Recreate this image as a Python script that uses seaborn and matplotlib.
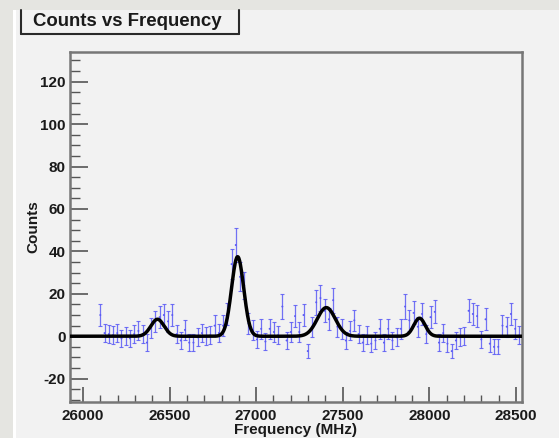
import numpy as np
import pandas as pd
import matplotlib
matplotlib.use("Agg")
import matplotlib.pyplot as plt
from matplotlib.patches import Rectangle
from matplotlib.lines import Line2D
from matplotlib.ticker import MultipleLocator
import seaborn as sns

sns.set_style("white")
plt.rcParams['font.family'] = ['Liberation Sans', 'DejaVu Sans']
plt.rcParams['axes.unicode_minus'] = False

# ---- data ----
freq_first = 26100
freq_last = 28520
counts = [10, 1.5, 1, 0.5, 1.5, -1, 0, -1, 1, 2.5,
          1, -3, 4, 7, 9, 10, 7, 10, 1, -2,
          3, -3, -3, -0.5, 1.5, 0, 0.5, 5, 1.5, 5,
          10.5, 34, 43, 28, 24, 6, 3, -1.5, 3.5, -2.5,
          3.5, 2, 0.5, 14, -2, 2, 9.5, 2, 10, -7,
          4.5, 16, 18, 12, 8, 17, 4.5, 3.5, -2, 2.5,
          7.5, 1, -3, 0.5, -3.5, -2, 3.5, -3, 3.5, -2,
          -0.5, 3.5, 14, 7.5, 11, 4.5, 10.5, 1, 9, 11.5,
          -3, 1.5, -3.5, -7, -2, -0.5, 0, 12, 10.5, 9.5,
          -1.5, 8, -3.5, -5, -5, 5, 4.5, 10.5, 3.5, 0.5]
errors = [5.3, 4.4, 4.4, 4.3, 4.4, 4.1, 4.2, 4.1, 4.4, 4.5,
          4.4, 3.9, 4.7, 5.0, 5.2, 5.3, 5.0, 5.3, 4.4, 4.0,
          4.6, 3.9, 3.9, 4.3, 4.4, 4.2, 4.3, 4.8, 4.4, 4.8,
          5.3, 7.2, 7.8, 6.8, 6.5, 4.9, 4.6, 4.1, 4.6, 3.9,
          4.6, 4.5, 4.3, 5.7, 4.0, 4.5, 5.2, 4.5, 5.3, 3.3,
          4.7, 5.8, 6.0, 5.5, 5.1, 5.9, 4.7, 4.6, 4.0, 4.5,
          5.0, 4.4, 3.9, 4.3, 3.8, 4.0, 4.6, 3.9, 4.6, 4.0,
          4.2, 4.6, 5.7, 5.0, 5.4, 4.7, 5.3, 4.4, 5.2, 5.4,
          3.9, 4.4, 3.8, 3.3, 4.0, 4.2, 4.2, 5.5, 5.3, 5.2,
          4.1, 5.1, 3.8, 3.6, 3.6, 4.8, 4.7, 5.3, 4.6, 4.3]
# Gaussian fit parameters (four peaks)
peak_centers = [26430, 26893, 27405, 27943]
peak_amps = [8, 37.5, 13.5, 8.5]
peak_sigmas = [38, 35, 52, 33]

x_ticks = [26000, 26500, 27000, 27500, 28000, 28500]
y_ticks = [-20, 0, 20, 40, 60, 80, 100, 120]
title = "Counts vs Frequency"
x_label = "Frequency (MHz)"
y_label = "Counts"

freqs = np.linspace(freq_first, freq_last, len(counts))
df = pd.DataFrame({"freq": freqs, "counts": counts, "err": errors})

xlim = (25925, 28535)
ylim = (-31, 134)
grid = np.linspace(xlim[0], xlim[1], 1200)
fit = np.zeros_like(grid)
for c, a, s in zip(peak_centers, peak_amps, peak_sigmas):
    fit += a * np.exp(-0.5 * ((grid - c) / s) ** 2)
fit_df = pd.DataFrame({"freq": grid, "fit": fit})

# ---- figure ----
W, H = 559, 438
fig = plt.figure(figsize=(W / 100, H / 100), dpi=100, facecolor='#e5e5e1')
# canvas
fig.patches.append(Rectangle((16 / W, 0), 1 - 16 / W, 1 - 10 / H,
                             transform=fig.transFigure, facecolor='#f2f2f2',
                             edgecolor='none', zorder=-10))
fig.patches.append(Rectangle((13 / W, 0), 3 / W, 1 - 10 / H,
                             transform=fig.transFigure, facecolor='white',
                             edgecolor='none', zorder=-10))

ax = fig.add_axes([70 / W, 1 - 402 / H, 452 / W, 350 / H])
ax.set_zorder(1)
ax.set_facecolor('#f2f2f2')

blue = '#5a5af5'
ax.errorbar(df["freq"], df["counts"], yerr=df["err"], fmt='none',
            ecolor=blue, elinewidth=0.9, capsize=1.4, capthick=0.8, alpha=0.85,
            zorder=2)
sns.scatterplot(data=df, x="freq", y="counts", ax=ax, s=2, color=blue,
                edgecolor='none', zorder=3, legend=False)
sns.lineplot(data=fit_df, x="freq", y="fit", ax=ax, color='black',
             linewidth=2.5, estimator=None, sort=False, zorder=4)

ax.set_xlim(*xlim)
ax.set_ylim(*ylim)
ax.set_xticks(x_ticks)
ax.set_yticks(y_ticks)
ax.xaxis.set_minor_locator(MultipleLocator(100))
ax.yaxis.set_minor_locator(MultipleLocator(5))
ax.tick_params(axis='both', which='both', bottom=True, left=True, top=False,
               right=False)
ax.tick_params(axis='x', which='major', direction='in', length=11, width=1.2,
               color='#555555', pad=5, labelsize=11, labelcolor='#1a1a1a')
ax.tick_params(axis='x', which='minor', direction='in', length=5, width=1.0,
               color='#555555')
ax.tick_params(axis='y', which='major', direction='in', length=13, width=1.2,
               color='#555555', pad=3, labelsize=11, labelcolor='#1a1a1a')
ax.tick_params(axis='y', which='minor', direction='in', length=7, width=1.0,
               color='#555555')
for lab in ax.get_xticklabels() + ax.get_yticklabels():
    lab.set_fontweight('bold')
for sp in ax.spines.values():
    sp.set_visible(True)
    sp.set_color('#777777')
    sp.set_linewidth(1.8)

ax.set_xlabel(x_label, fontsize=11, fontweight='bold', color='#1a1a1a', labelpad=0)
ax.set_ylabel(y_label, fontsize=11, fontweight='bold', color='#1a1a1a', labelpad=0)

# title box
bx0, bx1, by0, by1 = 20.5 / W, 238.5 / W, 1 - 34 / H, 1 - 10 / H
for (xa, ya) in [((bx0, bx0), (by0, by1)), ((bx1, bx1), (by0, by1)),
                 ((bx0, bx1), (by0, by0))]:
    fig.add_artist(Line2D(xa, ya, transform=fig.transFigure, color='#2a2a2a',
                          linewidth=1.5))
fig.text(33 / W, 1 - 22 / H, title, fontsize=13.4, fontweight='bold',
         color='#1a1a1a', ha='left', va='center')

fig.savefig("out.png", dpi=100, facecolor=fig.get_facecolor())
